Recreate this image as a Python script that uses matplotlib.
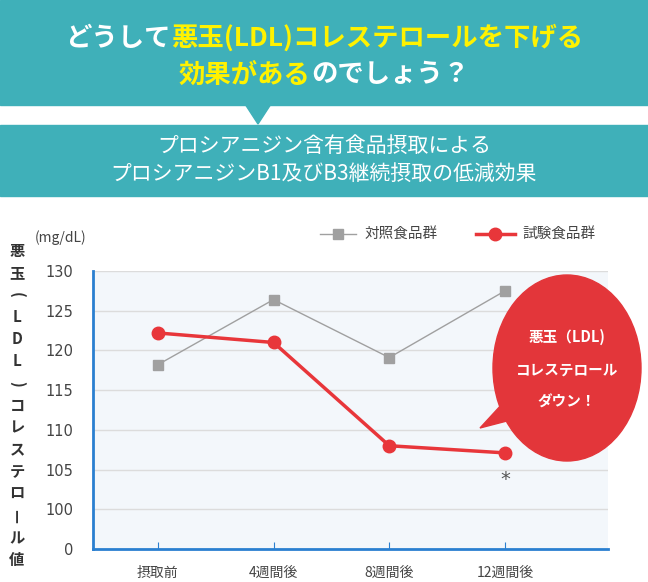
import matplotlib
matplotlib.use("Agg")
import matplotlib.pyplot as plt
from matplotlib.patches import Rectangle, Polygon, Ellipse

categories = ["摂取前", "4週間後", "8週間後", "12週間後"]
control = [118.2, 126.4, 119.1, 127.5]
test = [122.2, 121.0, 108.0, 107.1]
tick_vals = [95, 100, 105, 110, 115, 120, 125, 130]
tick_labels = ["0", "100", "105", "110", "115", "120", "125", "130"]

FONT = "Noto Sans CJK JP"
plt.rcParams["font.family"] = FONT
W, H = 648, 582
fig = plt.figure(figsize=(W/100, H/100), dpi=100)

def fx(px): return px / W
def fy(py): return 1 - py / H

teal = "#3fb0b9"
fig.patches.append(Rectangle((0, fy(105)), 1, 105/H, transform=fig.transFigure, color=teal, zorder=0))
fig.patches.append(Polygon([(fx(245), fy(104)), (fx(271), fy(104)), (fx(258), fy(124))], closed=True,
                           transform=fig.transFigure, color=teal, zorder=0))
fig.patches.append(Rectangle((0, fy(196)), 1, (196-125)/H, transform=fig.transFigure, color=teal, zorder=0))

def colored_line(parts, y, size):
    r = fig.canvas.get_renderer()
    texts = []
    for s, c in parts:
        t = fig.text(0, fy(y), s, color=c, fontsize=size, fontweight="bold", va="center", ha="left")
        texts.append(t)
    widths = [t.get_window_extent(r).width for t in texts]
    x = (W - sum(widths)) / 2
    for t, w in zip(texts, widths):
        t.set_x(fx(x))
        x += w

yellow = "#fff200"
colored_line([("どうして", "white"), ("悪玉(LDL)コレステロールを下げる", yellow)], 38, 19)
colored_line([("効果がある", yellow), ("のでしょう？", "white")], 75, 19)
fig.text(0.5, fy(146), "プロシアニジン含有食品摂取による", color="white", fontsize=15, ha="center", va="center")
fig.text(0.5, fy(174), "プロシアニジンB1及びB3継続摂取の低減効果", color="white", fontsize=15, ha="center", va="center")

ax = fig.add_axes([fx(93), fy(549), fx(608-93), (549-271)/H])
ax.set_facecolor("#f3f7fb")
x = list(range(len(categories)))
ax.plot(x, control, color="#a0a0a0", lw=1, marker="s", ms=7, mfc="#a0a0a0", mec="#a0a0a0", zorder=3)
ax.plot(x, test, color="#e8363a", lw=2.5, marker="o", ms=9, zorder=4)
ax.set_xlim(-0.56, 3.89)
ax.set_ylim(95, 130)
ax.set_yticks(tick_vals)
ax.set_yticklabels(tick_labels, color="#444444", fontsize=10.5, fontfamily="DejaVu Sans")
ax.set_xticks(x)
ax.set_xticklabels(categories, color="#444444", fontsize=10)
ax.tick_params(axis="y", length=0, pad=14)
ax.tick_params(axis="x", direction="in", length=5, color="#2a7fd0", pad=12)
for v in tick_vals[1:]:
    ax.axhline(v, color="#dcdcdc", lw=1, zorder=1)
for s in ["top", "right"]:
    ax.spines[s].set_visible(False)
for s in ["left", "bottom"]:
    ax.spines[s].set_color("#2a7fd0")
    ax.spines[s].set_linewidth(2)
ax.text(3, 103.8, "*", ha="center", va="center", fontsize=14, color="#555555", fontfamily="DejaVu Sans")

fig.patches.append(Polygon([(fx(480), fy(428)), (fx(515), fy(390)), (fx(530), fy(415))], closed=True,
                           transform=fig.transFigure, color="#e3363a", zorder=5))
fig.patches.append(Ellipse((fx(567), fy(368)), 148/W, 186/H, transform=fig.transFigure, color="#e3363a", zorder=5))
for txt, py in [("悪玉（LDL)", 337), ("コレステロール", 370), ("ダウン！", 402)]:
    fig.text(fx(567), fy(py), txt, color="white", fontsize=10.5, fontweight="bold", ha="center", va="center", zorder=6)

fig.lines.append(plt.Line2D([fx(320), fx(356)], [fy(234)]*2, transform=fig.transFigure, color="#a0a0a0", lw=1))
fig.lines.append(plt.Line2D([fx(338)], [fy(234)], transform=fig.transFigure, color="#a0a0a0", marker="s", ms=7))
fig.text(fx(364), fy(234), "対照食品群", fontsize=10.5, color="#444444", va="center")
fig.lines.append(plt.Line2D([fx(476), fx(515)], [fy(234)]*2, transform=fig.transFigure, color="#e8363a", lw=2.5))
fig.lines.append(plt.Line2D([fx(495)], [fy(234)], transform=fig.transFigure, color="#e8363a", marker="o", ms=9))
fig.text(fx(522), fy(234), "試験食品群", fontsize=10.5, color="#444444", va="center")

fig.text(fx(35), fy(238), "(mg/dL)", fontsize=10, color="#444444", va="center")

ylab = "悪玉(LDL)コレステロ—ル値"
chars = list(ylab)
y0, y1 = 251, 560
step = (y1 - y0) / (len(chars) - 1)
for i, ch in enumerate(chars):
    rot = -90 if ch in "()" else (90 if ch == "—" else 0)
    fig.text(fx(17), fy(y0 + i*step), ch, fontsize=11, fontweight="bold", color="#333333",
             ha="center", va="center", rotation=rot)

fig.savefig("out.png", dpi=100)
